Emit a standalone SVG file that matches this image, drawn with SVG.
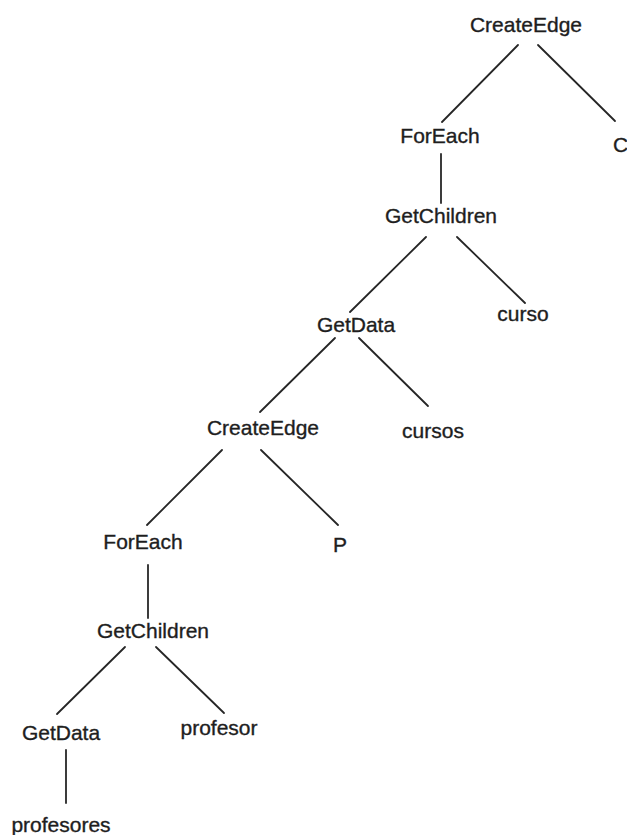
<svg xmlns="http://www.w3.org/2000/svg" width="627" height="835" viewBox="0 0 627 835">
  <style>
    .bg { fill: #ffffff; }
    .label { font-family: "Liberation Sans", Arial, sans-serif; font-size: 21px; fill: #1e1e1e; stroke: #1e1e1e; stroke-width: 0.35; text-anchor: middle; }
    .edge { stroke: #262626; stroke-width: 1.8; stroke-linecap: round; fill: none; }
  </style>
  <rect class="bg" x="0" y="0" width="627" height="835"/>

  <!-- tree edges -->
  <g id="connectors">
    <line class="edge" x1="518" y1="45" x2="442" y2="122"/>
    <line class="edge" x1="538" y1="45" x2="615" y2="121"/>
    <line class="edge" x1="441" y1="154" x2="441" y2="203"/>
    <line class="edge" x1="426" y1="237" x2="350" y2="312"/>
    <line class="edge" x1="457" y1="237" x2="525" y2="303"/>
    <line class="edge" x1="335" y1="338" x2="260" y2="412"/>
    <line class="edge" x1="359" y1="338" x2="428" y2="406"/>
    <line class="edge" x1="222" y1="450" x2="147" y2="525"/>
    <line class="edge" x1="261" y1="450" x2="338" y2="525"/>
    <line class="edge" x1="148" y1="565" x2="148" y2="618"/>
    <line class="edge" x1="125" y1="647" x2="57" y2="714"/>
    <line class="edge" x1="156" y1="647" x2="224" y2="713"/>
    <line class="edge" x1="66" y1="750" x2="66" y2="803"/>
  </g>

  <!-- tree nodes -->
  <g id="createedge-root"><text class="label" x="526" y="32">CreateEdge</text></g>
  <g id="foreach-outer"><text class="label" x="440" y="143">ForEach</text></g>
  <g id="c-leaf"><text class="label" x="613" y="152" style="text-anchor:start">C</text></g>
  <g id="getchildren-outer"><text class="label" x="441" y="223">GetChildren</text></g>
  <g id="curso"><text class="label" x="523" y="321">curso</text></g>
  <g id="getdata-outer"><text class="label" x="356" y="332">GetData</text></g>
  <g id="createedge-inner"><text class="label" x="263" y="435">CreateEdge</text></g>
  <g id="cursos"><text class="label" x="433" y="438">cursos</text></g>
  <g id="foreach-inner"><text class="label" x="143" y="549">ForEach</text></g>
  <g id="p-leaf"><text class="label" x="340" y="552">P</text></g>
  <g id="getchildren-inner"><text class="label" x="153" y="638">GetChildren</text></g>
  <g id="getdata-inner"><text class="label" x="61" y="740">GetData</text></g>
  <g id="profesor"><text class="label" x="219" y="735">profesor</text></g>
  <g id="profesores"><text class="label" x="61" y="832">profesores</text></g>
</svg>
